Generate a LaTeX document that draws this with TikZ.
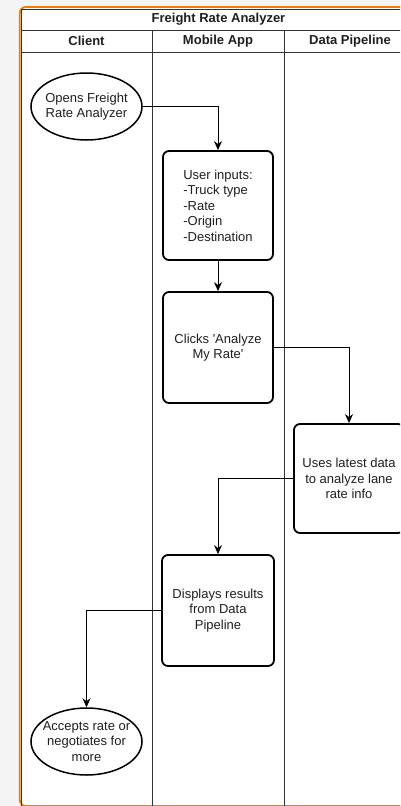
\documentclass[tikz,border=0pt]{standalone}
\usepackage{fontspec}
\setmainfont{Liberation Sans}
\usetikzlibrary{shapes.geometric,arrows.meta}
\definecolor{pagegrey}{HTML}{F4F4F4}
\definecolor{frameorange}{HTML}{F57C00}
\definecolor{laneline}{HTML}{333333}
\tikzset{
  txt/.style={font=\fontsize{13}{15.5}\selectfont, text=black!88, align=center, inner sep=0pt},
  stepbox/.style={txt, draw=black, line width=1.8pt, rounded corners=6pt,
    minimum width=110pt, minimum height=110pt},
  terminal/.style={txt, ellipse, draw=black, line width=1.5pt, inner xsep=-6pt, inner ysep=0pt,
    minimum width=111pt, minimum height=67pt},
  flow/.style={draw=black, line width=0.9pt, -{Stealth[length=9pt,width=8pt]}},
  lane/.style={draw=laneline, line width=1pt},
  hdr/.style={font=\fontsize{13}{15.5}\selectfont\bfseries, text=black!88, inner sep=0pt}
}
\begin{document}
\begin{tikzpicture}[x=1pt,y=-1pt]
\useasboundingbox (0,0) rectangle (400,806);
\fill[pagegrey] (0,0) rectangle (400,806);
\begin{scope}
\clip (0,0) rectangle (400,806);
% outer frame
\draw[frameorange, line width=1.8pt, fill=white, rounded corners=6pt] (19.8,7) rectangle (440,806);
% pool with title and lane headers
\draw[lane] (21,9) rectangle (416,830);
\draw[lane] (21,30) -- (416,30);
\draw[lane] (21,52) -- (416,52);
\draw[lane] (152,30) -- (152,830);
\draw[lane] (284,30) -- (284,830);
\node[hdr] (title) at (218.5,19.5) {Freight Rate Analyzer};
\node[hdr] (hclient) at (86.5,41) {Client};
\node[hdr] (happ) at (218,41) {Mobile App};
\node[hdr] (hpipe) at (350,41) {Data Pipeline};
% process steps
\node[terminal] (open) at (86.5,106.5) {Opens Freight\\Rate Analyzer};
\node[stepbox, minimum height=109pt, align=left] (inputs) at (218,205.5)
  {User inputs:\\-Truck type\\-Rate\\-Origin\\-Destination};
\node[stepbox, minimum height=111pt] (clicks) at (218,347.5)
  {Clicks \textquotesingle Analyze\\My Rate\textquotesingle};
\node[stepbox, minimum height=109pt] (analyze) at (349,478.5) {Uses latest data\\to analyze lane\\rate info};
\node[stepbox, minimum width=112pt, minimum height=111pt] (display) at (218,610.5)
  {Displays results\\from Data\\Pipeline};
\node[terminal] (accept) at (86.5,741.5) {Accepts rate or\\negotiates for\\more};
% connectors
\draw[flow] (open.east) -| (inputs.north);
\draw[flow] (inputs.south) -- (clicks.north);
\draw[flow] (clicks.east) -| (analyze.north);
\draw[flow] (analyze.west) -| (display.north);
\draw[flow] (display.west) -| (accept.north);
\end{scope}
\end{tikzpicture}
\end{document}
